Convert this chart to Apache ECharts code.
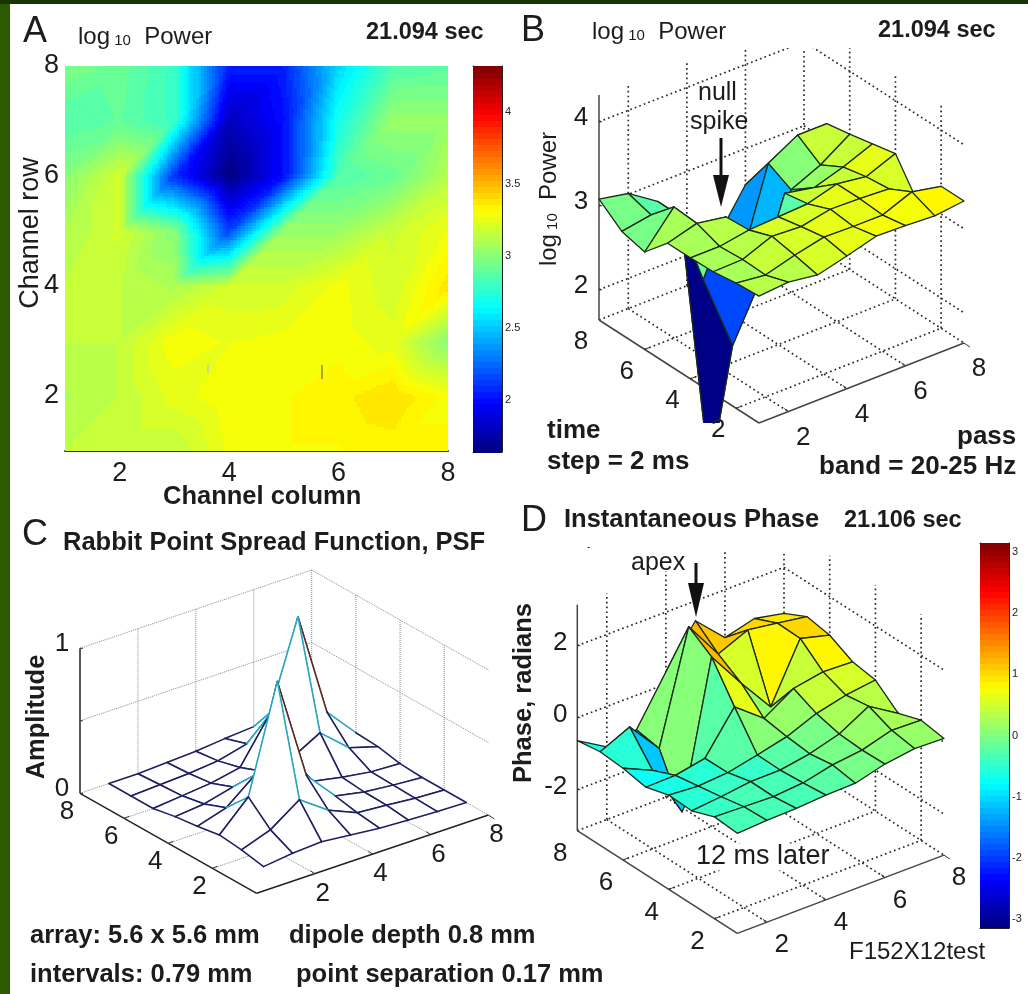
<!DOCTYPE html>
<html><head><meta charset="utf-8">
<style>html,body{margin:0;padding:0;background:#fff}#c{width:1028px;height:994px}</style>
<script src="https://cdn.jsdelivr.net/npm/echarts@6/dist/echarts.min.js"></script>
</head><body><div id="c"></div>
<script>
// ---- data: rows run from row 8 (first) down to row 1, columns 1..8 ----
const powerMap = [
 [2.98,2.92,2.80,2.05,2.05,2.55,2.85,2.88],
 [2.85,2.90,2.80,1.80,2.00,2.70,3.05,3.05],
 [3.00,3.20,2.10,1.65,2.00,2.85,2.92,3.12],
 [3.10,3.20,3.00,2.15,3.05,3.05,3.18,3.28],
 [3.15,3.15,3.10,3.20,3.20,3.29,3.20,3.38],
 [3.15,3.15,3.30,3.27,3.29,3.30,3.25,3.00],
 [3.10,3.15,3.25,3.31,3.31,3.34,3.40,3.30],
 [3.15,3.15,3.15,3.28,3.31,3.31,3.33,3.33]];
const powerSurface = [
 [3.08,3.01,2.78,2.05,2.05,2.57,2.75,2.88],
 [2.87,2.93,2.78,-0.45,1.88,3.00,3.20,3.20],
 [2.80,3.20,2.20,1.28,2.02,2.86,3.02,3.25],
 [3.08,3.18,3.12,2.09,3.13,3.06,3.17,3.31],
 [3.08,3.08,3.14,3.16,3.18,3.28,3.23,3.37],
 [3.09,3.10,3.24,3.22,3.29,3.28,3.26,2.95],
 [3.13,3.09,3.19,3.27,3.26,3.26,3.40,3.33],
 [3.15,3.18,3.13,3.22,3.32,3.31,3.29,3.33]];
const psfSurface = [
 [.00,.00,.01,.02,.04,.055,.05,.03],
 [.00,.01,.02,.04,.09,.27,.09,.04],
 [.00,.02,.04,.08,.37,.985,.26,.05],
 [.03,.05,.10,.14,.16,.27,.10,.04],
 [.05,.11,.27,.16,.09,.05,.02,.01],
 [.076,.27,1.0,.285,.075,.035,.015,.00],
 [.06,.13,.27,.13,.045,.03,.01,.00],
 [.03,.055,.067,.046,.025,.014,.005,.00]];
const phaseSurface = [
 [-.64,-1.12,-.96,.34,1.45,.67,.89,.72],
 [-.54,-.16,-1.07,2.0,.93,1.29,1.17,1.04],
 [-.59,-.96,-2.42,1.57,.53,-.44,1.15,.93],
 [-.71,-.69,-.53,.59,-.04,.48,.63,.60],
 [-.52,-.58,-.52,-.34,-.14,.19,.39,.50],
 [-.55,-.47,-.36,-.35,-.21,.03,.49,-.02],
 [-.31,-.34,-.37,-.30,-.11,-.01,.23,.20],
 [-.36,-.31,-.29,-.23,-.21,.01,.13,.10]];
const channelTicks = [2,4,6,8];
const powerBarTicks = [2,2.5,3,3.5,4];
const phaseBarTicks = [-3,-2,-1,0,1,2,3];
const powerZTicks = [2,3,4];
const psfZTicks = [0,0.5,1];
const psfZLabels = [0,1];
const phaseZTicks = [-2,0,2];
const powerRange = [1.64,4.32];
const phaseRange = [-3.14,3.14];

// ---- styling helpers ----
const FONT = '"Liberation Sans", Arial, sans-serif';
const INK = '#1c1c1c';
function jet(t){
  t = Math.max(0,Math.min(1,t));
  t = (Math.floor(t*63.999)+0.5)/64;
  const f = v => Math.round(255*Math.max(0,Math.min(1,1.5-Math.abs(v))));
  return 'rgb('+f(4*t-3)+','+f(4*t-2)+','+f(4*t-1)+')';
}
const dots={stroke:'#2a2a2a',lineWidth:1.7,lineDash:[1.7,3.1]};
const scenes = {
  B:{x0:599,y0:320,ux:205,uy:-80,vx:160,vy:103,zs:84,cMin:1,cMax:8,zMin:1.64,zMax:4.32,dotted:dots,
     axis:{stroke:'#444',lineWidth:1.5},zTicks:powerZTicks,zLabels:powerZTicks,rowOff:[-18,22],colOff:[15,26],zOff:[-18,-4],range:powerRange,maskY:48,maskX:[600,1000]},
  C:{x0:80,y0:793.3,ux:231.7,uy:-78.3,vx:176.7,vy:100,zs:145,cMin:0,cMax:8,zMin:0,zMax:1,dotted:{stroke:'#8a8a8a',lineWidth:1,lineDash:[1,1]},
     axis:{stroke:'#222',lineWidth:1.5},zTicks:psfZTicks,zLabels:psfZLabels,rowOff:[-13,19],colOff:[8,20],zOff:[-18,-4]},
  D:{x0:577.3,y0:830.7,ux:206.7,uy:-78.3,vx:160,vy:102.7,zs:36,cMin:1,cMax:8,zMin:-3.14,zMax:3.14,dotted:dots,
     axis:{stroke:'#444',lineWidth:1.5},zTicks:phaseZTicks,zLabels:phaseZTicks,rowOff:[-17,23],colOff:[15,23],zOff:[-17,-3],range:phaseRange,maskY:552,maskX:[580,975]}
};
function project(s,c,r,z){
  const a=(c-s.cMin)/(s.cMax-s.cMin), b=(8-r)/(8-s.cMin);
  return [s.x0+s.ux*a+s.vx*b, s.y0+s.uy*a+s.vy*b-s.zs*(z-s.zMin)];
}
const zAt=(m,c,r)=>m[8-r][c-1];

// ---- walls, floor and axes of a 3-D box ----
function boxItems(s){
  const items=[], rowFront=s.cMin, top=s.zMax, bot=s.zMin;
  const L=(p,q,style)=>items.push({k:'l',p,q,style});
  channelTicks.forEach(c=>{
    L([c,8,bot],[c,8,top],s.dotted);
    L([c,8,bot],[c,rowFront,bot],s.dotted);
  });
  channelTicks.forEach(r=>{
    if(r<8) L([8,r,bot],[8,r,top],s.dotted);
    L([s.cMin,r,bot],[8,r,bot],s.dotted);
  });
  s.zTicks.forEach(z=>{
    if(z===bot) return;
    L([s.cMin,8,z],[8,8,z],s.dotted);
    L([8,8,z],[8,rowFront,z],s.dotted);
  });
  if(s.maskY) items.push({k:'mask'});
  L([s.cMin,8,bot],[s.cMin,8,top],s.axis);
  L([s.cMin,8,bot],[s.cMin,rowFront,bot],s.axis);
  L([s.cMin,rowFront,bot],[8,rowFront,bot],s.axis);
  s.zTicks.forEach(z=>items.push({k:'t',p:[s.cMin,8,z],d:[3,0]}));
  channelTicks.forEach(v=>{
    if(v<8) items.push({k:'t',p:[s.cMin,v,bot],d:[5,-2]});
    if(v<8) items.push({k:'t',p:[v,rowFront,bot],d:[-4,-3]});
  });
  items.push({k:'t',p:[8,rowFront,bot],d:[6,4]});
  return items;
}
function labelItems(s){
  const items=[];
  channelTicks.forEach(v=>{
    items.push({k:'x',p:[s.cMin,v,s.zMin],o:s.rowOff,txt:String(v)});
    items.push({k:'x',p:[v,s.cMin,s.zMin],o:s.colOff,txt:String(v)});
  });
  s.zLabels.forEach(z=>items.push({k:'x',p:[s.cMin,8,z],o:s.zOff,txt:String(z),right:true}));
  return items;
}
function boxSeries(s,grid){
  const items=boxItems(s);
  return {type:'custom',xAxisIndex:grid,yAxisIndex:grid,silent:true,z:2,
    data:items.map((_,i)=>[i]),
    renderItem(params,api){
      const it=items[api.value(0)];
      if(it.k==='l'){
        const a=api.coord(project(s,...it.p)), b=api.coord(project(s,...it.q));
        return {type:'line',shape:{x1:a[0],y1:a[1],x2:b[0],y2:b[1]},style:Object.assign({fill:null},it.style)};
      }
      if(it.k==='t'){
        const a=api.coord(project(s,...it.p));
        return {type:'line',shape:{x1:a[0],y1:a[1],x2:a[0]+it.d[0],y2:a[1]+it.d[1]},style:{stroke:'#333',lineWidth:1}};
      }
      const a=api.coord([s.maskX[0],Math.max(4,s.maskY-60)]), b=api.coord([s.maskX[1],s.maskY]);
      return {type:'rect',shape:{x:a[0],y:a[1],width:b[0]-a[0],height:b[1]-a[1]},style:{fill:'#fff'}};
    }};
}
function labelSeries(s,grid){
  const items=labelItems(s);
  return {type:'custom',xAxisIndex:grid,yAxisIndex:grid,silent:true,z:6,
    data:items.map((_,i)=>[i]),
    renderItem(params,api){
      const it=items[api.value(0)];
      const a=api.coord(project(s,...it.p));
      const right=it.right&&it.txt.length>1;
      return {type:'text',x:a[0]+it.o[0]+(right?7:0),y:a[1]+it.o[1],
        style:{text:it.txt,fill:INK,font:'26px '+FONT,align:right?'right':'center',verticalAlign:'middle',textAlign:right?'right':'center',textVerticalAlign:'middle'}};
    }};
}
function facetData(){
  const d=[];
  for(let r=7;r>=1;r--) for(let c=7;c>=1;c--) d.push([c,r]);
  return d;
}
function colourSurface(s,m,grid){
  return {type:'custom',xAxisIndex:grid,yAxisIndex:grid,silent:true,z:4,clip:true,
    data:facetData(),
    renderItem(params,api){
      const c=api.value(0), r=api.value(1);
      const cs=[[c,r],[c+1,r],[c+1,r+1],[c,r+1]];
      const zs=cs.map(q=>zAt(m,q[0],q[1]));
      const mean=zs.reduce((p,v)=>p+v,0)/4;
      const pts=cs.map((q,i)=>api.coord(project(s,q[0],q[1],zs[i])));
      return {type:'polygon',shape:{points:pts},style:{fill:jet((mean-s.range[0])/(s.range[1]-s.range[0])),stroke:'#1d2b1a',lineWidth:1.3,lineJoin:'round'}};
    }};
}
function meshEdge(z){ return z<.2?'#1e1e62':(z<.6?'#2aa6c4':'#5a2a2a'); }
function wireSurface(s,m,grid){
  return {type:'custom',xAxisIndex:grid,yAxisIndex:grid,silent:true,z:4,
    data:facetData(),
    renderItem(params,api){
      const c=api.value(0), r=api.value(1);
      const P=(a,b)=>api.coord(project(s,a,b,zAt(m,a,b)));
      const seg=(a,b,col)=>({type:'line',shape:{x1:a[0],y1:a[1],x2:b[0],y2:b[1]},style:{stroke:col,lineWidth:1.5,lineCap:'round'}});
      const p00=P(c,r),p10=P(c+1,r),p11=P(c+1,r+1),p01=P(c,r+1);
      return {type:'group',children:[
        {type:'polygon',shape:{points:[p00,p10,p11,p01]},style:{fill:'#fff'}},
        seg(p01,p11,meshEdge(zAt(m,c,r+1))),
        seg(p11,p10,meshEdge(zAt(m,c+1,r))),
        seg(p00,p01,meshEdge(zAt(m,c,r))),
        seg(p00,p10,meshEdge(zAt(m,c,r)))
      ]};
    }};
}
// ---- panel A map: each grid cell is shaded from its four corner values ----
function mapSeries(m,grid,range){
  const cells=[];
  for(let r=1;r<8;r++) for(let c=1;c<8;c++) cells.push([c,r]);
  const N=20;
  return {type:'custom',xAxisIndex:grid,yAxisIndex:grid,silent:true,z:2,clip:true,data:cells,
    renderItem(params,api){
      const c=api.value(0), r=api.value(1);
      const a=zAt(m,c,r),b=zAt(m,c+1,r),d=zAt(m,c,r+1),e=zAt(m,c+1,r+1);
      const kids=[];
      for(let i=0;i<N;i++) for(let j=0;j<N;j++){
        const u=(i+.5)/N, v=(j+.5)/N;
        const val=(u>v)? a+(b-a)*u+(e-b)*v : a+(d-a)*v+(e-d)*u;
        const p=api.coord([c+i/N,r+(j+1)/N]), q=api.coord([c+(i+1)/N,r+j/N]);
        const x=Math.floor(p[0]),y=Math.floor(p[1]);
        kids.push({type:'rect',shape:{x,y,width:Math.ceil(q[0])-x,height:Math.ceil(q[1])-y},style:{fill:jet((val-range[0])/(range[1]-range[0]))}});
      }
      return {type:'group',children:kids};
    }};
}
function barSeries(grid,range){
  const levels=[]; for(let i=0;i<64;i++) levels.push([i]);
  return {type:'custom',xAxisIndex:grid,yAxisIndex:grid,silent:true,z:2,data:levels,
    renderItem(params,api){
      const i=api.value(0), st=(range[1]-range[0])/64;
      const p=api.coord([0,range[0]+st*(i+1)]), q=api.coord([1,range[0]+st*i]);
      const y=Math.floor(p[1]);
      return {type:'rect',shape:{x:p[0],y,width:q[0]-p[0],height:Math.ceil(q[1])-y},style:{fill:jet((i+.5)/64)}};
    }};
}
// ---- text ----
const T=(x,y,text,font,o)=>Object.assign({type:'text',x,y,z:20,silent:true,style:Object.assign({text,fill:INK,font:font+' '+FONT,align:'left',verticalAlign:'middle',textAlign:'left',textVerticalAlign:'middle'},(o&&o.style)||{})},o&&o.rotation!==undefined?{rotation:o.rotation}:{});
const logPower=(x,y,sz,sub,rot)=>{
  const e={type:'text',x,y,z:20,silent:true,style:{text:'{a|log}{b| 10}{a|  Power}',fill:INK,align:rot?'center':'left',verticalAlign:'middle',textAlign:rot?'center':'left',textVerticalAlign:'middle',
    rich:{a:{font:sz+'px '+FONT,fill:INK,verticalAlign:'bottom'},b:{font:sub+'px '+FONT,fill:INK,verticalAlign:'bottom',padding:[0,0,1,0]}}}};
  if(rot) e.rotation=Math.PI/2;
  return e;
};
const R90={rotation:Math.PI/2,style:{align:'center',textAlign:'center'}};
const arrow=(x,y1,yHead,y2,w)=>[
  {type:'line',z:20,silent:true,shape:{x1:x,y1,x2:x,y2:yHead+2},style:{stroke:'#111',lineWidth:3}},
  {type:'polygon',z:20,silent:true,shape:{points:[[x-w/2,yHead],[x+w/2,yHead],[x,y2]]},style:{fill:'#111'}}
];
const graphics=[
  {type:'rect',z:0,silent:true,shape:{x:0,y:0,width:10,height:994},style:{fill:'#2c5a02'}},
  {type:'rect',z:0,silent:true,shape:{x:0,y:0,width:1028,height:4},style:{fill:'#163500'}},
  T(23,32,'A','36px'), T(521,31,'B','36px'), T(22,535,'C','36px'), T(521,521,'D','36px'),
  logPower(78,37,24,15), logPower(592,32,24,15),
  T(366,33,'21.094 sec','bold 23.5px'), T(878,31,'21.094 sec','bold 23.5px'),
  T(31,233,'Channel row','27px',R90),
  T(163,497,'Channel column','bold 25.5px'),
  logPower(549,199,24,15,true),
  T(698,93,'null','25px'), T(690,122,'spike','25px'),
  T(547,431,'time','bold 26px'), T(547,462,'step = 2 ms','bold 26px'),
  T(957,437,'pass','bold 26px'), T(819,467,'band = 20-25 Hz','bold 26px'),
  T(63,543,'Rabbit Point Spread Function, PSF','bold 25.5px'),
  T(37,717,'Amplitude','bold 25.5px',R90),
  T(30,936,'array: 5.6 x 5.6 mm','bold 25.5px'), T(30,975,'intervals: 0.79 mm','bold 25.5px'),
  T(289,936,'dipole depth 0.8 mm','bold 25.5px'), T(296,975,'point separation 0.17 mm','bold 25.5px'),
  T(564,520,'Instantaneous Phase','bold 25.5px'), T(844,521,'21.106 sec','bold 23.5px'),
  T(631,563,'apex','25px'), T(524,693,'Phase, radians','bold 25.5px',R90),
  T(696,857,'12 ms later','27px',{style:{backgroundColor:'#fff'}}), T(849,952,'F152X12test','24px'),
  T(587,547,'-','10px'),
  {type:'line',z:20,silent:true,shape:{x1:322,y1:365,x2:322,y2:379},style:{stroke:'#555',lineWidth:1}},
  {type:'line',z:20,silent:true,shape:{x1:208,y1:364,x2:208,y2:373},style:{stroke:'#bbb',lineWidth:1}},
  ...arrow(721,138,175,207,16),
  ...arrow(696,563,583,617,16)
];
const pix=(gridIndex,a,b,c,d)=>[
  {gridIndex,type:'value',min:a,max:b,show:false},
  {gridIndex,type:'value',min:c,max:d,inverse:true,show:false}
];
const gridsPx=[
  {left:514,top:0,width:514,height:423},
  {left:0,top:500,width:514,height:494},
  {left:514,top:500,width:514,height:494},
  {left:514,top:0,width:514,height:500}
];
const pxAxes=[pix(0,514,1028,0,423),pix(1,0,514,500,994),pix(2,514,1028,500,994),pix(3,514,1028,0,500)];
const barAxis=(grid,range,ticks,side,labels)=>({gridIndex:grid,type:'value',min:range[0],max:range[1],position:side,
  axisLine:{show:true,onZero:false,lineStyle:{color:'#222',width:1}},
  axisTick:{show:true,inside:true,length:4,customValues:ticks,lineStyle:{color:'#111'}},
  axisLabel:{show:labels,customValues:ticks,margin:3,fontSize:11,color:'#222',fontFamily:FONT,formatter:v=>String(v)},
  splitLine:{show:false}});
const barX=(grid,side)=>({gridIndex:grid,type:'value',min:0,max:1,position:side,axisLine:{show:true,onZero:false,lineStyle:{color:'#222',width:1}},axisTick:{show:false},axisLabel:{show:false},splitLine:{show:false}});
const mapAxis=(grid,kind)=>({gridIndex:grid,type:'value',min:1,max:8,
  axisLine:{show:kind==='x',onZero:false,lineStyle:{color:'#333',width:2}},
  axisTick:{show:false,customValues:channelTicks},
  axisLabel:{customValues:channelTicks,margin:kind==='x'?9:6,fontSize:27,color:INK,fontFamily:FONT,formatter:v=>String(v)},
  splitLine:{show:false}});

const xAxes=[],yAxes=[];
pxAxes.forEach(a=>{xAxes.push(a[0]);yAxes.push(a[1]);});
xAxes.push(mapAxis(4,'x')); yAxes.push(mapAxis(4,'y'));
xAxes.push(barX(5,'bottom')); yAxes.push(barAxis(5,powerRange,powerBarTicks,'right',true));
xAxes.push(barX(6,'bottom')); yAxes.push(barAxis(6,phaseRange,phaseBarTicks,'right',true));
xAxes.push(barX(5,'top')); yAxes.push(barAxis(5,powerRange,powerBarTicks,'left',false));
xAxes.push(barX(6,'top')); yAxes.push(barAxis(6,phaseRange,phaseBarTicks,'left',false));

const chart=echarts.init(document.getElementById('c'),null,{renderer:'canvas'});
chart.setOption({
  animation:false,
  backgroundColor:'#fff',
  graphic:{elements:graphics},
  grid:gridsPx.concat([
    {left:65,top:66,width:383,height:385},
    {left:473,top:66,width:29,height:386},
    {left:980,top:543,width:29,height:385}
  ]),
  xAxis:xAxes, yAxis:yAxes,
  series:[
    mapSeries(powerMap,4,powerRange),
    barSeries(5,powerRange),
    barSeries(6,phaseRange),
    boxSeries(scenes.B,3), colourSurface(scenes.B,powerSurface,0), labelSeries(scenes.B,3),
    boxSeries(scenes.C,1), wireSurface(scenes.C,psfSurface,1), labelSeries(scenes.C,1),
    boxSeries(scenes.D,2), colourSurface(scenes.D,phaseSurface,2), labelSeries(scenes.D,2)
  ]
});
</script></body></html>
